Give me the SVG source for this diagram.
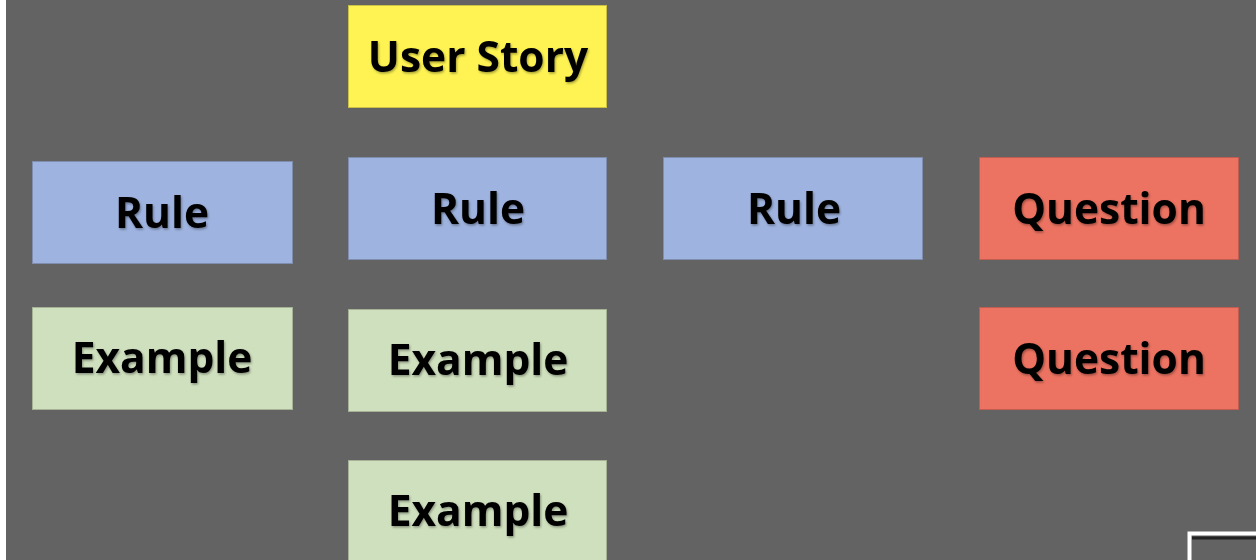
<svg xmlns="http://www.w3.org/2000/svg" width="1256" height="560" viewBox="0 0 1256 560">
<defs>
<filter id="sh" x="-10%" y="-10%" width="120%" height="130%">
<feDropShadow dx="1" dy="1.5" stdDeviation="1" flood-color="#000" flood-opacity="0.35"/>
</filter>
</defs>
<style>
.card{stroke-width:1}
.t{font-family:"Open Sans",sans-serif;font-weight:bold;font-size:42.5px;fill:#000;text-anchor:middle;filter:url(#sh)}
.story{fill:#FEF352;stroke:#C9C045}
.rule{fill:#9EB3DF;stroke:#7F8DAF}
.ex{fill:#CFE0BE;stroke:#A5B296}
.q{fill:#EC7261;stroke:#C05D50}
</style>
<rect width="1256" height="560" fill="#636363"/>
<rect x="0" y="0" width="6" height="560" fill="#FFFFFF"/>
<g id="userstory"><rect class="card story" x="348.5" y="5.5" width="258" height="102"/><text class="t" x="478" y="72">User Story</text></g>
<g id="rule1"><rect class="card rule" x="32.5" y="161.5" width="260" height="102"/><text class="t" x="162" y="228">Rule</text></g>
<g id="rule2"><rect class="card rule" x="348.5" y="157.5" width="258" height="102"/><text class="t" x="478" y="224">Rule</text></g>
<g id="rule3"><rect class="card rule" x="663.5" y="157.5" width="259" height="102"/><text class="t" x="794" y="224">Rule</text></g>
<g id="question1"><rect class="card q" x="979.5" y="157.5" width="259" height="102"/><text class="t" x="1109" y="224">Question</text></g>
<g id="question2"><rect class="card q" x="979.5" y="307.5" width="259" height="102"/><text class="t" x="1109" y="374">Question</text></g>
<g id="example1"><rect class="card ex" x="32.5" y="307.5" width="260" height="102"/><text class="t" x="162" y="373">Example</text></g>
<g id="example2"><rect class="card ex" x="348.5" y="309.5" width="258" height="102"/><text class="t" x="478" y="375">Example</text></g>
<g id="example3"><rect class="card ex" x="348.5" y="460.5" width="258" height="110"/><text class="t" x="478" y="526">Example</text></g>
<g id="corner"><rect x="1189.5" y="533.5" width="80" height="40" fill="#636363" stroke="#FFFFFF" stroke-width="4"/><line x1="1192" y1="538" x2="1256" y2="538" stroke="#222" stroke-width="3"/></g>
<g id="connectors"></g>
</svg>
